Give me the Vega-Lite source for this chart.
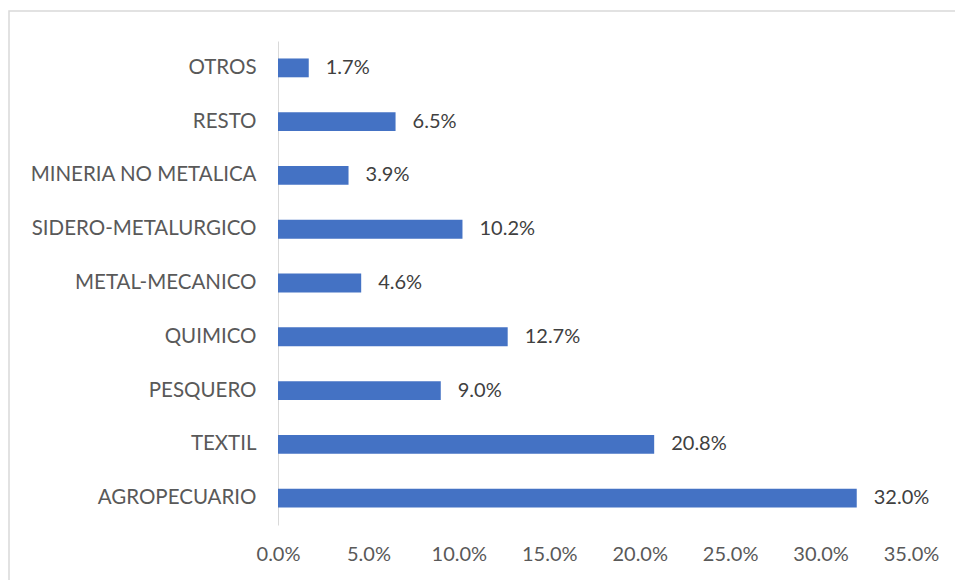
{
  "$schema": "https://vega.github.io/schema/vega-lite/v6.json",
  "width": 950,
  "height": 575,
  "autosize": "none",
  "padding": {"left": 9, "top": 11, "right": 0, "bottom": 0},
  "background": "white",
  "config": {
    "view": {"stroke": "#d9d9d9", "strokeWidth": 1.5},
    "font": "Lato"
  },
  "data": {
    "values": [
      {"sector": "OTROS", "value": 0.017},
      {"sector": "RESTO", "value": 0.065},
      {"sector": "MINERIA NO METALICA", "value": 0.039},
      {"sector": "SIDERO-METALURGICO", "value": 0.102},
      {"sector": "METAL-MECANICO", "value": 0.046},
      {"sector": "QUIMICO", "value": 0.127},
      {"sector": "PESQUERO", "value": 0.09},
      {"sector": "TEXTIL", "value": 0.208},
      {"sector": "AGROPECUARIO", "value": 0.32}
    ]
  },
  "encoding": {
    "y": {
      "field": "sector",
      "type": "nominal",
      "sort": null,
      "scale": {"range": [30, 514], "paddingInner": 0.65, "paddingOuter": 0.325},
      "axis": {
        "title": null,
        "offset": -269,
        "ticks": false,
        "domainColor": "#d9d9d9",
        "domainWidth": 1,
        "labelPadding": 22,
        "labelFontSize": 20.5,
        "labelLimit": 0,
        "labelColor": "#595959",
        "labelFont": "Lato"
      }
    },
    "x": {
      "field": "value",
      "type": "quantitative",
      "scale": {"domain": [0, 0.35], "range": [269, 902], "nice": false},
      "axis": {
        "title": null,
        "offset": -58,
        "values": [0, 0.05, 0.1, 0.15, 0.2, 0.25, 0.3, 0.35],
        "format": ".1%",
        "grid": false,
        "ticks": false,
        "domain": false,
        "labelPadding": 16,
        "labelFontSize": 20,
        "labelColor": "#595959",
        "labelFont": "Lato",
        "labelFlush": false
      }
    }
  },
  "layer": [
    {"mark": {"type": "bar", "color": "#4472C4"}},
    {
      "mark": {"type": "text", "align": "left", "dx": 17, "fontSize": 20, "color": "#404040", "font": "Lato"},
      "encoding": {"text": {"field": "value", "type": "quantitative", "format": ".1%"}}
    }
  ]
}
